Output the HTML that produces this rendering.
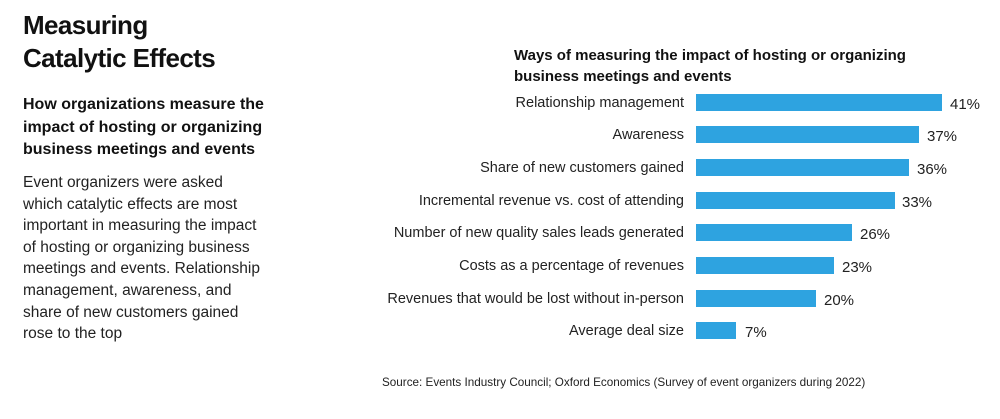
<!DOCTYPE html>
<html><head><style>
body{margin:0;width:1000px;height:419px;background:#fff;font-family:"Liberation Sans",sans-serif;color:#111;position:relative;overflow:hidden}
.a{position:absolute;white-space:nowrap}
.h{left:23px;top:9px;font-size:26px;font-weight:bold;line-height:33px;letter-spacing:-0.6px}
.s{left:23px;top:94px;font-size:16px;font-weight:bold;line-height:22.5px}
.b{left:23px;top:172px;font-size:15.5px;line-height:21.6px;color:#222}
.t{left:514px;top:45px;font-size:15px;font-weight:bold;line-height:21px}
.l{right:316px;font-size:14.5px;color:#222;text-align:right}
.bar{position:absolute;left:696px;height:17px;background:#2ea3e0}
.v{font-size:15px;color:#222}
.src{left:382px;top:376px;font-size:11.7px;color:#222}
</style></head><body>
<div class="a h">Measuring<br>Catalytic Effects</div>
<div class="a s">How organizations measure the<br>impact of hosting or organizing<br>business meetings and events</div>
<div class="a b">Event organizers were asked<br>which catalytic effects are most<br>important in measuring the impact<br>of hosting or organizing business<br>meetings and events. Relationship<br>management, awareness, and<br>share of new customers gained<br>rose to the top</div>
<div class="a t">Ways of measuring the impact of hosting or organizing<br>business meetings and events</div>

<div class="a l" style="top:95px">Relationship management</div>
<div class="bar" style="top:94px;width:246px"></div>
<div class="a v" style="left:950px;top:96px">41%</div>

<div class="a l" style="top:127px">Awareness</div>
<div class="bar" style="top:126px;width:223px"></div>
<div class="a v" style="left:927px;top:128px">37%</div>

<div class="a l" style="top:160px">Share of new customers gained</div>
<div class="bar" style="top:159px;width:213px"></div>
<div class="a v" style="left:917px;top:161px">36%</div>

<div class="a l" style="top:193px">Incremental revenue vs. cost of attending</div>
<div class="bar" style="top:192px;width:199px"></div>
<div class="a v" style="left:902px;top:194px">33%</div>

<div class="a l" style="top:225px">Number of new quality sales leads generated</div>
<div class="bar" style="top:224px;width:156px"></div>
<div class="a v" style="left:860px;top:226px">26%</div>

<div class="a l" style="top:258px">Costs as a percentage of revenues</div>
<div class="bar" style="top:257px;width:138px"></div>
<div class="a v" style="left:842px;top:259px">23%</div>

<div class="a l" style="top:291px">Revenues that would be lost without in-person</div>
<div class="bar" style="top:290px;width:120px"></div>
<div class="a v" style="left:824px;top:292px">20%</div>

<div class="a l" style="top:323px">Average deal size</div>
<div class="bar" style="top:322px;width:40px"></div>
<div class="a v" style="left:745px;top:324px">7%</div>

<div class="a src">Source: Events Industry Council; Oxford Economics (Survey of event organizers during 2022)</div>
</body></html>
